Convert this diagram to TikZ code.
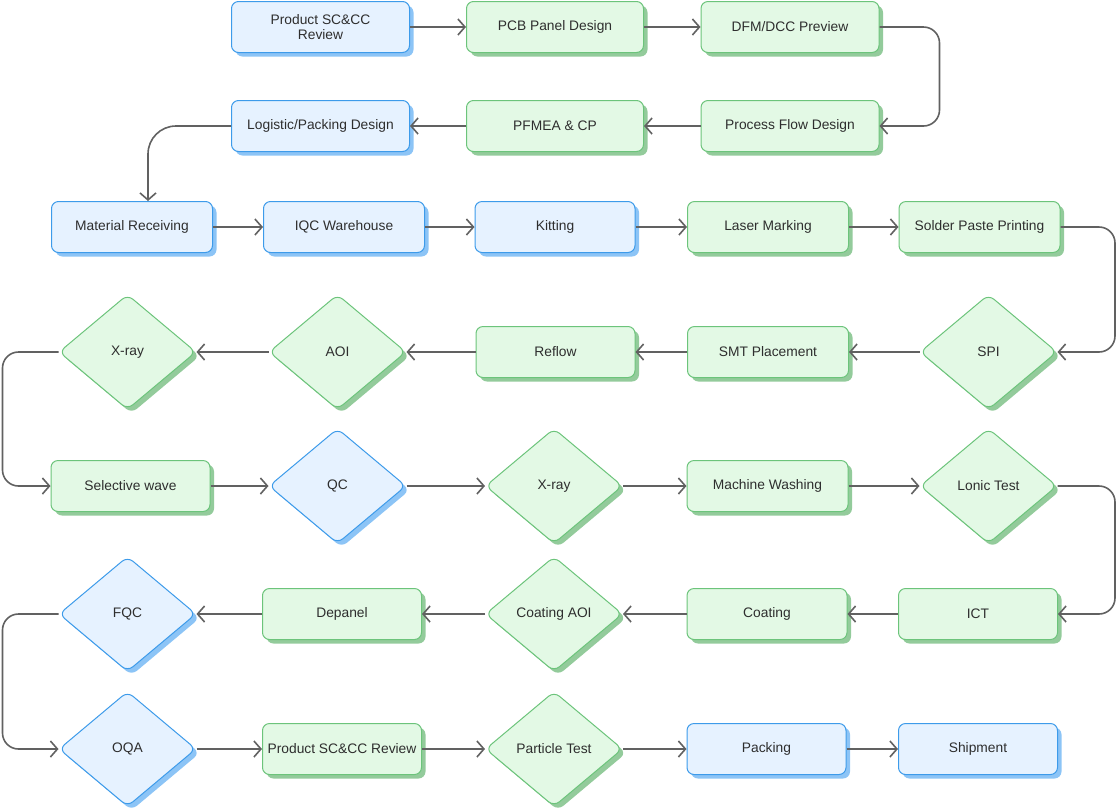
\documentclass[tikz,border=0pt]{standalone}
\usepackage{fontspec}
\setmainfont{Liberation Sans}
\usetikzlibrary{shapes.geometric,shadows,arrows.meta}
\definecolor{bluefill}{HTML}{E6F2FF}
\definecolor{blueline}{HTML}{3D9BEA}
\definecolor{blueshade}{HTML}{8CC4F6}
\definecolor{greenfill}{HTML}{E3F9E5}
\definecolor{greenline}{HTML}{6CC47B}
\definecolor{greenshade}{HTML}{93CB9B}
\definecolor{arrowgray}{HTML}{616161}
\definecolor{textgray}{HTML}{2E2E2E}
\begin{document}
\begin{tikzpicture}[x=1pt,y=-1pt,font=\fontsize{13.8}{15.5}\selectfont,text=textgray,
    stage/.style={rectangle,rounded corners=7pt,line width=1pt,minimum height=51pt,inner sep=2pt,align=center},
    check/.style={diamond,rounded corners=7pt,line width=1pt,minimum width=137pt,minimum height=115pt,inner sep=0pt},
    bluestage/.style={fill=bluefill,draw=blueline,copy shadow={shadow xshift=4pt,shadow yshift=-4pt,fill=blueshade,draw=none}},
    greenstage/.style={fill=greenfill,draw=greenline,copy shadow={shadow xshift=4pt,shadow yshift=-4pt,fill=greenshade,draw=none}},
    flow/.style={draw=arrowgray,line width=1.6pt,-{Straight Barb[length=7pt,width=16pt,line width=1.6pt]}},
    loop/.style={flow,rounded corners=16pt}]
  \useasboundingbox (0,0) rectangle (1117,807);
  % design rows
  \node[stage,bluestage,minimum width=178pt] (rev) at (320.5,27) {Product SC\&CC\\Review};
  \node[stage,greenstage,minimum width=177pt] (pcb) at (555,27) {PCB Panel Design};
  \node[stage,greenstage,minimum width=178pt] (dfm) at (790,27) {DFM/DCC Preview};
  \node[stage,bluestage,minimum width=178pt] (logi) at (320.5,126) {Logistic/Packing Design};
  \node[stage,greenstage,minimum width=177pt] (pfmea) at (555,126) {PFMEA \& CP};
  \node[stage,greenstage,minimum width=178pt] (pfd) at (790,126) {Process Flow Design};
  % material and printing
  \node[stage,bluestage,minimum width=161pt] (recv) at (132,227) {Material Receiving};
  \node[stage,bluestage,minimum width=161pt] (iqc) at (344,227) {IQC Warehouse};
  \node[stage,bluestage,minimum width=160pt] (kit) at (555,227) {Kitting};
  \node[stage,greenstage,minimum width=161pt] (laser) at (768,227) {Laser Marking};
  \node[stage,greenstage,minimum width=161pt] (paste) at (979.5,227) {Solder Paste Printing};
  % smt
  \node[check,greenstage] (spi) at (988.5,352) {SPI};
  \node[stage,greenstage,minimum width=161pt] (smt) at (768,352) {SMT Placement};
  \node[stage,greenstage,minimum width=159pt] (reflow) at (555.5,352) {Reflow};
  \node[check,greenstage] (aoi) at (337.5,352) {AOI};
  \node[check,greenstage] (xrayA) at (127.5,352) {X-ray};
  % through hole and test
  \node[stage,greenstage,minimum width=159pt] (wave) at (130.5,486) {Selective wave};
  \node[check,bluestage] (qc) at (337.5,486) {QC};
  \node[check,greenstage] (xrayB) at (554,486) {X-ray};
  \node[stage,greenstage,minimum width=161pt] (wash) at (767.5,486) {Machine Washing};
  \node[check,greenstage] (ionic) at (988.5,486) {Lonic Test};
  \node[stage,greenstage,minimum width=159pt] (ict) at (978,614) {ICT};
  \node[stage,greenstage,minimum width=160pt] (coat) at (767,614) {Coating};
  \node[check,greenstage] (coataoi) at (554,614) {Coating AOI};
  \node[stage,greenstage,minimum width=159pt] (depanel) at (342,614) {Depanel};
  \node[check,bluestage] (fqc) at (127.5,614) {FQC};
  % release
  \node[check,bluestage] (oqa) at (127.5,749) {OQA};
  \node[stage,greenstage,minimum width=159pt] (final) at (342,749) {Product SC\&CC Review};
  \node[check,greenstage] (particle) at (554,749) {Particle Test};
  \node[stage,bluestage,minimum width=159pt] (pack) at (766.5,749) {Packing};
  \node[stage,bluestage,minimum width=159pt] (ship) at (978,749) {Shipment};
  % straight links
  \foreach \a/\b in {rev/pcb,pcb/dfm,pfd/pfmea,pfmea/logi,recv/iqc,iqc/kit,kit/laser,laser/paste,
      spi/smt,smt/reflow,reflow/aoi,aoi/xrayA,wave/qc,qc/xrayB,xrayB/wash,wash/ionic,
      ict/coat,coat/coataoi,coataoi/depanel,depanel/fqc,oqa/final,final/particle,particle/pack,pack/ship}
    \draw[flow] (\a) -- (\b);
  % turns between rows
  \draw[loop] (dfm.east) -- ++(60,0) |- (pfd.east);
  \draw[loop,rounded corners=28pt] (logi.west) -| ([xshift=16pt]recv.north);
  \draw[loop] (paste.east) -- ++(54.5,0) |- (spi.east);
  \draw[loop] (xrayA.west) -- ++(-56,0) |- (wave.west);
  \draw[loop] (ionic.east) -- ++(57.5,0) |- (ict.east);
  \draw[loop] (fqc.west) -- ++(-56,0) |- (oqa.west);
\end{tikzpicture}
\end{document}
